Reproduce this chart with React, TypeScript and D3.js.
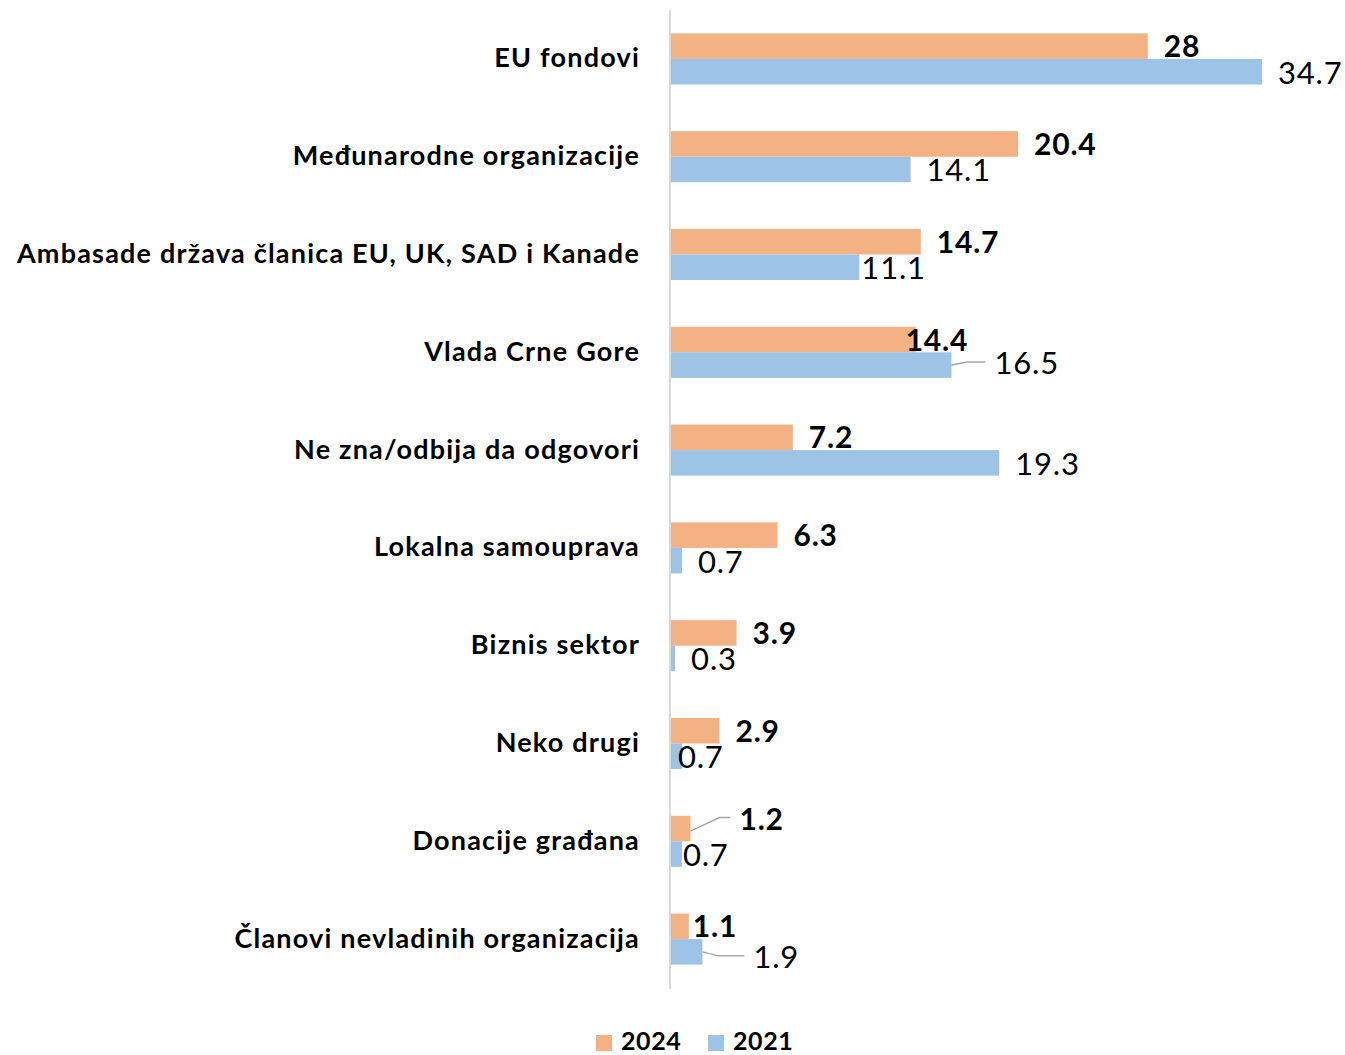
import React from "react";
import * as d3 from "d3";

const categories = [
  "EU fondovi",
  "Međunarodne organizacije",
  "Ambasade država članica EU, UK, SAD i Kanade",
  "Vlada Crne Gore",
  "Ne zna/odbija da odgovori",
  "Lokalna samouprava",
  "Biznis sektor",
  "Neko drugi",
  "Donacije građana",
  "Članovi nevladinih organizacija",
];
const series2024 = [28, 20.4, 14.7, 14.4, 7.2, 6.3, 3.9, 2.9, 1.2, 1.1];
const series2021 = [34.7, 14.1, 11.1, 16.5, 19.3, 0.7, 0.3, 0.7, 0.7, 1.9];
const seriesNames = ["2024", "2021"];

// label nudges (dx, dy) in px, relative to default placement
const nudge2024: [number, number][] = [
  [0, 0], [0, 0], [0, 0], [-26, 0], [0, 0], [0, 0], [0, 0], [0, 0], [33, -10], [-12, 0],
];
const nudge2021: [number, number][] = [
  [0, 0], [0, 0], [-14, 0], [27, -3], [0, 0], [0, 0], [0, 0], [-20, 0], [-15, 0], [35, 4],
];
const leader2021 = [false, false, false, true, false, false, false, false, false, true];
const leader2024 = [false, false, false, false, false, false, false, false, true, false];

const W = 1345;
const H = 1055;
const FONT = "Lato, 'Open Sans', sans-serif";
const C2024 = "#F4B183";
const C2021 = "#9DC3E6";

export default function App() {
  const x0 = 670;
  const x = d3.scaleLinear().domain([0, 34.7]).range([x0, 1262]);
  const y = d3
    .scaleBand<string>()
    .domain(categories)
    .range([10, 988])
    .paddingInner(0.478)
    .paddingOuter(0.239);
  const bw = y.bandwidth() / 2;
  const off = 16;

  return (
    <svg
      width={W}
      height={H}
      style={{ position: "absolute", left: 0, top: 0, background: "#fff" }}
      fontFamily={FONT}
    >
      {categories.map((c, i) => {
        const yt = y(c)!;
        const v24 = series2024[i];
        const v21 = series2021[i];
        const e24 = x(v24);
        const e21 = x(v21);
        const l24x = e24 + off + nudge2024[i][0];
        const l24y = yt + bw / 2 + nudge2024[i][1] - 1;
        const l21x = e21 + off + nudge2021[i][0];
        const l21y = yt + bw + bw / 2 + nudge2021[i][1];
        return (
          <g key={c}>
            <text
              x={640}
              y={yt + bw - 2}
              textAnchor="end"
              dominantBaseline="central"
              fontSize={27}
              fontWeight="bold"
              letterSpacing={1.2}
              fill="#000"
            >
              {c}
            </text>
            <rect x={x0} y={yt} width={e24 - x0} height={bw} fill={C2024} />
            <rect x={x0} y={yt + bw} width={e21 - x0} height={bw} fill={C2021} />
            {leader2024[i] && (
              <polyline
                points={`${e24},${yt + bw * 0.6} ${l24x - 20},${l24y} ${l24x - 9},${l24y}`}
                fill="none"
                stroke="#a6a6a6"
                strokeWidth={1.5}
              />
            )}
            {leader2021[i] && (
              <polyline
                points={`${e21},${yt + bw * 1.5} ${e21 + 16},${l21y} ${l21x - 9},${l21y}`}
                fill="none"
                stroke="#a6a6a6"
                strokeWidth={1.5}
              />
            )}
            <text
              x={l24x}
              y={l24y}
              dominantBaseline="central"
              fontSize={30}
              fontWeight="bold"
              letterSpacing={0.8}
              fill="#000"
            >
              {String(v24)}
            </text>
            <text
              x={l21x}
              y={l21y}
              dominantBaseline="central"
              fontSize={31}
              letterSpacing={0.8}
              fill="#000"
            >
              {String(v21)}
            </text>
          </g>
        );
      })}
      <line x1={x0} x2={x0} y1={10} y2={989} stroke="#d9d9d9" strokeWidth={2} />
      {seriesNames.map((s, i) => {
        const lx = 596 + i * 112;
        return (
          <g key={s}>
            <rect x={lx} y={1035} width={16} height={16} fill={i === 0 ? C2024 : C2021} />
            <text x={lx + 25} y={1040} dominantBaseline="central" fontSize={25} fontWeight="bold" letterSpacing={0.6} fill="#000">
              {s}
            </text>
          </g>
        );
      })}
    </svg>
  );
}
